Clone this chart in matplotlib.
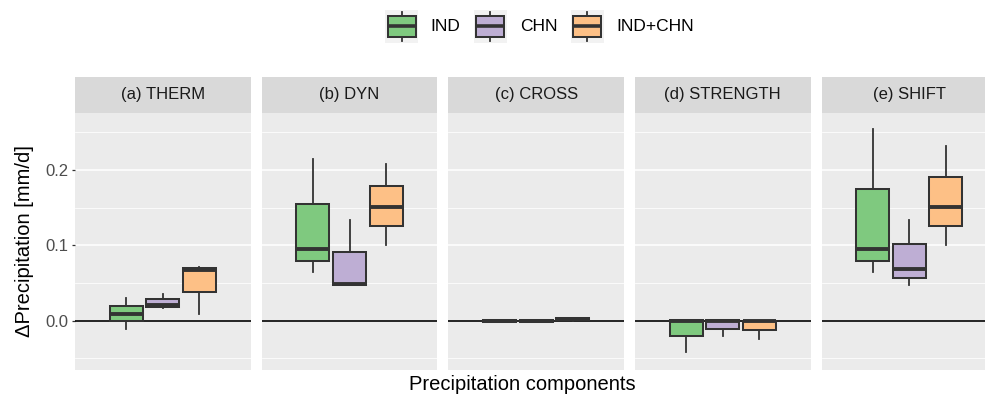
import matplotlib
matplotlib.use('Agg')
import matplotlib.pyplot as plt
from matplotlib.patches import Rectangle

plt.rcParams['font.family'] = ['Liberation Sans', 'DejaVu Sans']

panels = ['(a) THERM', '(b) DYN', '(c) CROSS', '(d) STRENGTH', '(e) SHIFT']
groups = ['IND', 'CHN', 'IND+CHN']
colors = ['#7FC97F', '#BEAED4', '#FDC086']

# five-number summaries per panel: [whisker low, q1, median, q3, whisker high]
ind_stats = [
    [-0.011, -0.001, 0.009, 0.020, 0.030],
    [0.064, 0.079, 0.095, 0.155, 0.214],
    [-0.002, -0.0015, -0.001, 0.0005, 0.001],
    [-0.041, -0.021, 0.000, 0.001, 0.001],
    [0.064, 0.079, 0.095, 0.175, 0.254],
]
chn_stats = [
    [0.0165, 0.0175, 0.021, 0.0288, 0.035],
    [0.047, 0.047, 0.048, 0.091, 0.133],
    [-0.002, -0.0015, -0.001, 0.0005, 0.001],
    [-0.020, -0.0115, 0.000, 0.001, 0.001],
    [0.047, 0.057, 0.068, 0.101, 0.133],
]
both_stats = [
    [0.0093, 0.0377, 0.067, 0.0704, 0.0717],
    [0.100, 0.126, 0.151, 0.179, 0.208],
    [0.000, 0.001, 0.002, 0.003, 0.0035],
    [-0.024, -0.013, 0.000, 0.000, 0.000],
    [0.100, 0.126, 0.151, 0.191, 0.231],
]
y_ticks = [0.0, 0.1, 0.2]
y_tick_labels = ['0.0', '0.1', '0.2']
y_minor = [-0.05, 0.05, 0.15, 0.25]

W, H = 985, 403
fig = plt.figure(figsize=(W / 100, H / 100), dpi=100)

def fx(px):
    return px / W

def fy(py):
    return 1 - py / H

panel_left = [75, 261.7, 448.3, 635, 821.5]
panel_w = 175.6
plot_top, plot_bot = 112.7, 370
strip_top = 77.3
edge = '#333333'

all_stats = [ind_stats, chn_stats, both_stats]
positions = [0.75, 1.0, 1.25]

for i, name in enumerate(panels):
    ax = fig.add_axes([fx(panel_left[i]), fy(plot_bot), fx(panel_w), (plot_bot - plot_top) / H])
    ax.set_facecolor('#EBEBEB')
    for s in ax.spines.values():
        s.set_visible(False)
    ax.set_xlim(0.4, 1.6)
    ax.set_ylim(-0.0655, 0.2758)
    ax.set_yticks(y_ticks)
    ax.set_yticks(y_minor, minor=True)
    ax.set_xticks([])
    ax.grid(which='major', axis='y', color='white', lw=1.1)
    ax.grid(which='minor', axis='y', color='white', lw=0.55)
    ax.set_axisbelow(True)
    ax.axhline(0, color='black', lw=1.2, zorder=1.5)
    stats = []
    for g, arr in enumerate(all_stats):
        lo, q1, med, q3, hi = arr[i]
        stats.append(dict(whislo=lo, q1=q1, med=med, q3=q3, whishi=hi, label=groups[g]))
    bp = ax.bxp(stats, positions=positions, widths=0.225, patch_artist=True,
                showfliers=False, showcaps=False,
                boxprops=dict(edgecolor=edge, linewidth=1.45),
                whiskerprops=dict(color=edge, linewidth=1.3),
                medianprops=dict(color=edge, linewidth=2.8, solid_capstyle='butt'),
                manage_ticks=False, zorder=3)
    for patch, c in zip(bp['boxes'], colors):
        patch.set_facecolor(c)
    if i == 0:
        ax.set_yticklabels(y_tick_labels)
        ax.tick_params(axis='y', which='major', length=2.5, width=0.9, color=edge,
                       labelcolor='#4D4D4D', labelsize=12, pad=2)
        ax.tick_params(axis='y', which='minor', length=0)
    else:
        ax.tick_params(axis='y', which='both', left=False, labelleft=False)
    # strip
    sax = fig.add_axes([fx(panel_left[i]), fy(plot_top), fx(panel_w), (plot_top - strip_top) / H])
    sax.set_facecolor('#D9D9D9')
    sax.set_xticks([]); sax.set_yticks([])
    for s in sax.spines.values():
        s.set_visible(False)
    sax.text(0.5, 0.5, name, ha='center', va='center', fontsize=12, color='#1A1A1A',
             transform=sax.transAxes)

fig.text(fx(25), fy(241), 'ΔPrecipitation [mm/d]', rotation=90, ha='center', va='center',
         fontsize=14.5, color='black')
fig.text(fx(522), fy(385), 'Precipitation components', ha='center', va='center',
         fontsize=14.5, color='black')

# legend
lax = fig.add_axes([0, 0, 1, 1], facecolor='none')
lax.set_xlim(0, W); lax.set_ylim(H, 0); lax.axis('off')
key_x = [385, 473.5, 570.5]
label_x = [430, 520, 616.5]
for kx, lxp, c, g in zip(key_x, label_x, colors, groups):
    lax.add_patch(Rectangle((kx, 10), 33, 33, facecolor='#F2F2F2', edgecolor='none'))
    lax.plot([kx + 16.5, kx + 16.5], [12.3, 16], color=edge, lw=1.3)
    lax.plot([kx + 16.5, kx + 16.5], [36.7, 40.7], color=edge, lw=1.3)
    lax.add_patch(Rectangle((kx + 2.5, 16), 28, 20.7, facecolor=c, edgecolor=edge, lw=1.45))
    lax.plot([kx + 2.5, kx + 30.5], [26.4, 26.4], color=edge, lw=2.6, solid_capstyle='butt')
    lax.text(lxp, 26.5, g, ha='left', va='center', fontsize=12.5, color='black')

fig.savefig('out.png', dpi=100)
